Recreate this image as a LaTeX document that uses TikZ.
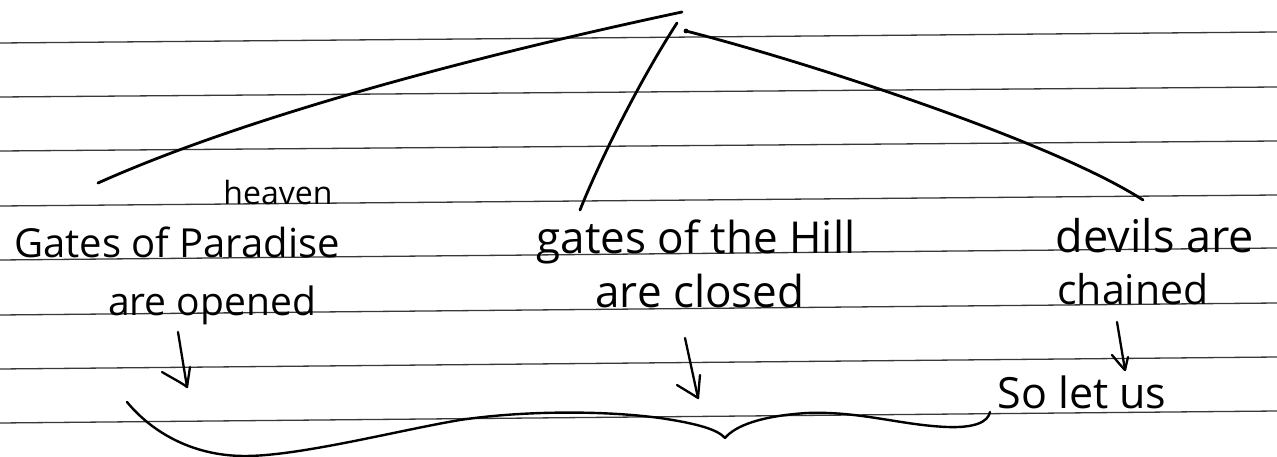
\documentclass[tikz,border=0pt]{standalone}
\usepackage{fontspec}
\setmainfont{Open Sans}
\tikzset{
  rule/.style={draw=black!78, line width=1.3pt},
  pen/.style={draw=black, line width=2.8pt, line cap=round, line join=round},
  arrowpen/.style={draw=black, line width=2.3pt, line cap=round, line join=round},
  hand/.style={anchor=base, inner sep=0pt, text=black},
}
\newcommand{\fs}[1]{\fontsize{#1}{#1}\selectfont}
\begin{document}
\begin{tikzpicture}[x=1pt,y=-1pt]
\useasboundingbox (0,0) rectangle (1277,457);
\fill[white] (0,0) rectangle (1277,457);
% ruled paper
\foreach \a/\b in {43/32, 97/87, 151/141, 206/195, 260/248, 315/303, 369/357, 423/411}
  \draw[rule] (0,\a) -- (1277,\b);

% texts
\node[hand, font=\fs{32}] (heaven) at (278,205) {heaven};
\node[hand, font=\fs{40}] (paradise) at (177,258) {Gates of Paradise};
\node[hand, font=\fs{39}] (opened) at (212,315) {are opened};
\node[hand, font=\fs{44}] (hell) at (696,253) {gates of the Hill};
\node[hand, font=\fs{44}] (closed) at (700,307) {are closed};
\node[hand, font=\fs{45}] (devils) at (1155,252) {devils are};
\node[hand, font=\fs{41}] (chained) at (1133,304) {chained};
\node[hand, font=\fs{43}] (solet) at (1082,408) {So let us};

% connector end points
\coordinate (topA) at (682,12);
\coordinate (topB) at (677,23);
\coordinate (topC) at (686,31);
\coordinate (footA) at (98,183);
\coordinate (footB) at (580,210);
\coordinate (footC) at (1143,200);

\draw[pen] (footA) .. controls (250,115) and (480,55) .. (topA);
\draw[pen] (footB) .. controls (600,160) and (640,80) .. (topB);
\draw[pen] (topC) .. controls (800,60) and (1050,140) .. (footC);
\fill (topC) circle (2.4pt);

% arrows
\coordinate (a1s) at (178,332); \coordinate (a1t) at (187,387);
\coordinate (a2s) at (685,338); \coordinate (a2t) at (698,398);
\coordinate (a3s) at (1117,322); \coordinate (a3t) at (1125,370);
\draw[arrowpen] (a1s) -- (a1t);
\draw[arrowpen] (162,372) .. controls (172,378) and (182,383) .. (a1t) -- (190,367);
\draw[arrowpen] (a2s) -- (a2t);
\draw[arrowpen] (677,385) .. controls (685,390) and (692,394) .. (a2t) -- (700,375);
\draw[arrowpen] (a3s) -- (a3t);
\draw[arrowpen] (1112,355) .. controls (1117,361) and (1121,366) .. (a3t) -- (1128,357);

% curly brace
\coordinate (brL) at (127,402);
\coordinate (brTip) at (725,438);
\coordinate (brR) at (990,412);
\draw[pen, line width=2.4pt] (brL) .. controls (150,430) and (190,456) .. (245,456)
  .. controls (300,456) and (400,430) .. (460,420)
  .. controls (520,411) and (600,410) .. (660,418)
  .. controls (700,424) and (718,430) .. (brTip)
  .. controls (735,426) and (760,416) .. (807,413)
  .. controls (860,411) and (900,425) .. (947,427)
  .. controls (975,428) and (988,422) .. (brR);
\end{tikzpicture}
\end{document}
